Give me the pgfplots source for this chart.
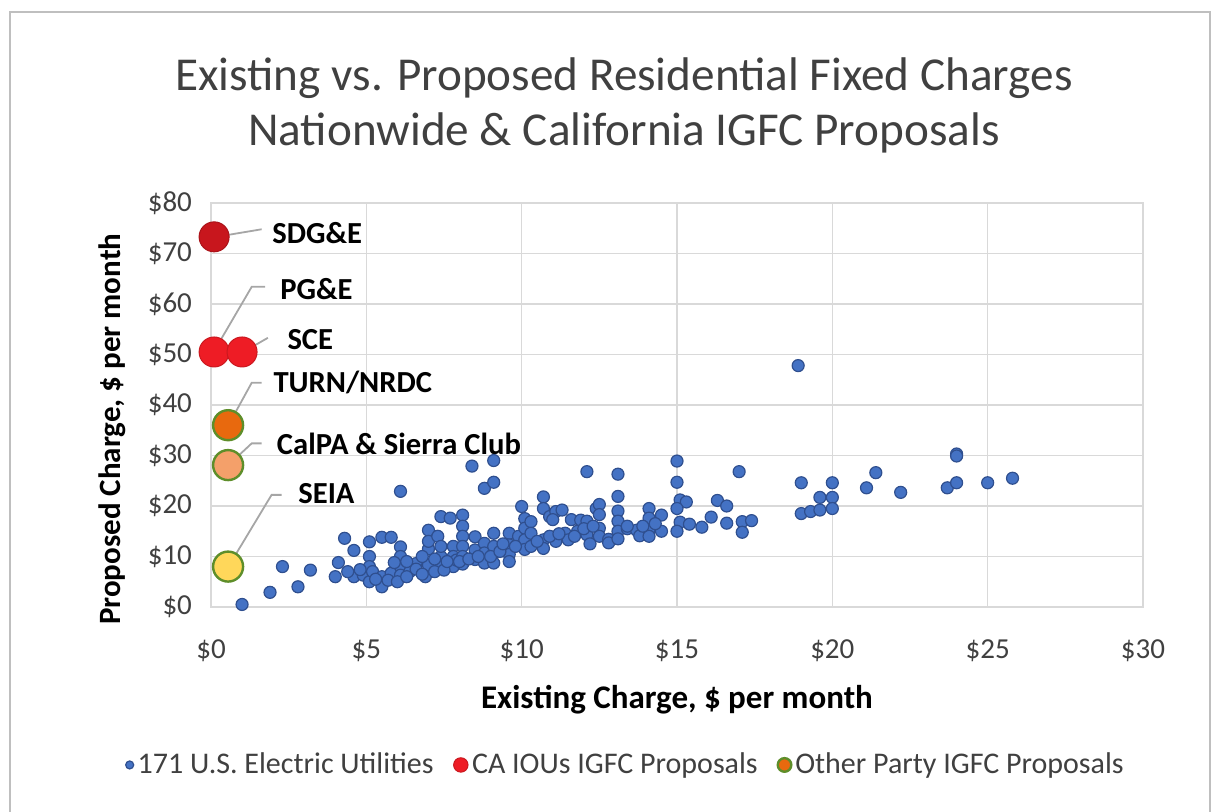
\documentclass[border=0pt]{standalone}
\usepackage{pgfplots}
\pgfplotsset{compat=1.18}
\usepackage{fontspec}
\setmainfont{Carlito}
\definecolor{dotblue}{HTML}{4472C4}
\definecolor{dotedge}{HTML}{2F4F8F}
\definecolor{iou}{HTML}{EE1C25}
\definecolor{sdge}{HTML}{C8161D}
\definecolor{turn}{HTML}{E8690E}
\definecolor{calpa}{HTML}{F4A06A}
\definecolor{seia}{HTML}{FFD75A}
\definecolor{gedge}{HTML}{5E8E2A}
\definecolor{gridc}{HTML}{D9D9D9}
\definecolor{titlec}{HTML}{404040}
\newcommand{\fs}[1]{\fontsize{#1}{#1}\selectfont}
\begin{document}
\begin{tikzpicture}
\useasboundingbox (0,0) rectangle (608.5pt,406pt);
\draw[black!25, line width=0.8pt] (5pt,-5pt) rectangle (605pt,400pt);
\node[text=titlec, align=center] at (312pt,367pt) {\fs{23.6pt}Existing vs. Proposed Residential Fixed Charges};
\node[text=titlec, align=center] at (312pt,339.5pt) {\fs{23.6pt}Nationwide \& California IGFC Proposals};
\begin{axis}[
  at={(105.5pt,102.5pt)}, anchor=origin,
  scale only axis, width=466pt, height=202pt,
  xmin=0, xmax=30, ymin=0, ymax=80,
  xtick={0,5,...,30}, ytick={0,10,...,80},
  xticklabels={\$0,\$5,\$10,\$15,\$20,\$25,\$30},
  yticklabels={\$0,\$10,\$20,\$30,\$40,\$50,\$60,\$70,\$80},
  /pgf/number format/assume math mode=true,
  tick label style={font=\fs{14.5pt}, text=titlec},
  xticklabel style={yshift=-13pt},
  yticklabel style={xshift=-6pt},
  major tick length=0pt,
  grid=major, major grid style={gridc, line width=0.8pt},
  axis line style={gridc, line width=0.8pt},
  clip=false,
  xlabel={\bfseries Existing Charge, \$ per month},
  ylabel={\bfseries Proposed Charge, \$ per month},
  xlabel style={font=\fs{16.5pt}, at={(0.5,-0.23)}, anchor=center},
  ylabel style={font=\fs{15.5pt}, at={(-0.106,0.44)}, anchor=center},
  legend style={at={(0.446,-0.391)}, anchor=center, draw=none, font=\fs{15pt}, text=titlec,
    /tikz/every even column/.append style={column sep=8pt}},
  legend columns=3,
]
\addplot[only marks, mark=*, mark size=3pt, mark options={fill=dotblue, draw=dotedge, line width=0.6pt},
  legend image post style={mark size=2pt}] table {
x y
1.0 0.5
1.9 2.9
2.3 8.0
2.8 4.0
3.2 7.3
4.0 6.0
4.1 8.8
4.3 13.6
4.6 11.2
4.6 6.0
4.9 6.3
5.1 12.9
5.1 10.0
5.1 8.0
5.1 5.0
5.2 7.0
5.5 13.8
5.5 6.0
5.5 4.0
5.8 13.8
5.8 6.7
6.1 22.9
6.1 11.9
6.1 10.0
6.1 8.0
6.1 6.3
6.4 7.0
6.6 8.6
6.6 7.5
6.9 6.0
7.0 15.2
7.0 11.5
7.0 8.3
7.0 13.0
7.3 14.0
7.4 17.9
7.4 10.0
7.4 8.3
7.4 12.0
7.7 17.6
7.8 12.0
7.8 10.0
7.8 8.0
7.9 9.3
8.1 18.2
8.1 16.0
8.1 14.0
8.1 12.0
8.1 10.0
8.1 8.5
8.4 27.9
8.5 13.9
8.5 11.3
8.5 9.4
8.8 23.5
8.8 12.6
8.8 10.7
8.8 8.7
9.1 29.0
9.1 24.7
9.1 14.6
9.1 10.7
9.1 8.7
9.1 12.0
9.6 14.6
9.6 12.3
9.6 10.4
9.6 9.0
9.9 14.0
10.0 19.9
10.1 17.5
10.1 15.6
10.1 13.3
10.1 11.4
10.3 16.9
10.3 14.6
10.3 12.0
10.7 21.8
10.7 19.5
10.7 13.3
10.7 11.6
10.9 17.9
11.1 18.9
11.0 17.3
11.1 13.0
11.3 19.2
11.4 14.6
11.5 13.3
11.6 17.3
11.8 15.0
11.9 17.2
12.1 26.8
12.1 17.0
12.1 14.3
12.2 12.5
12.4 19.5
12.5 20.3
12.5 18.3
12.5 15.6
12.5 14.0
12.8 13.4
12.8 12.7
13.1 26.3
13.1 21.9
13.1 19.0
13.1 17.0
13.1 15.0
13.1 13.5
13.4 15.5
13.7 15.2
13.8 14.1
14.1 19.5
14.1 17.6
14.1 15.3
14.1 14.0
14.5 18.2
14.5 15.0
15.0 28.9
15.0 24.7
15.1 21.2
15.3 20.8
15.0 19.5
15.1 16.8
15.0 15.0
15.4 16.4
15.8 15.8
16.1 17.8
16.3 21.1
16.6 20.0
16.6 16.6
17.0 26.8
17.1 16.9
17.4 17.1
17.1 14.8
18.9 47.8
19.0 24.6
19.0 18.5
19.3 18.9
19.6 19.2
19.6 21.7
20.0 24.6
20.0 21.7
20.0 19.5
21.1 23.6
21.4 26.6
22.2 22.7
23.7 23.6
24.0 30.3
24.0 29.9
24.0 24.6
25.0 24.6
25.8 25.5
5.3 5.5
5.7 5.3
6.0 5.0
6.3 6.0
6.8 6.5
7.2 7.0
7.5 7.3
7.6 9.0
8.0 9.0
8.3 9.5
8.6 10.0
9.0 10.0
9.3 11.0
9.4 12.5
9.8 12.0
10.5 13.0
10.9 14.0
11.2 14.5
11.7 14.0
12.0 15.5
12.3 16.0
13.4 16.0
13.9 16.0
14.3 16.5
6.3 9.0
6.8 10.0
7.2 9.5
4.4 7.0
4.8 7.4
5.9 8.8
};
\addlegendentry{171 U.S. Electric Utilities}
\addplot[only marks, mark=*, mark size=7.5pt, mark options={fill=iou, draw=iou!85!black, line width=0.5pt},
  legend image post style={mark size=3.6pt}] table {
x y
0.1 50.5
1.0 50.5
};
\addlegendentry{CA IOUs IGFC Proposals}
\addplot[only marks, mark=*, mark size=7.5pt, mark options={fill=turn, draw=gedge, line width=1.2pt},
  legend image post style={mark size=3.4pt, line width=0.8pt}] table {
x y
0.55 36.0
};
\addlegendentry{Other Party IGFC Proposals}
\addplot[only marks, forget plot, mark=*, mark size=7.5pt, mark options={fill=sdge, draw=sdge!85!black, line width=0.5pt}] table {
x y
0.1 73.3
};
\addplot[only marks, forget plot, mark=*, mark size=7.5pt, mark options={fill=calpa, draw=gedge, line width=1.2pt}] table {
x y
0.55 28.1
};
\addplot[only marks, forget plot, mark=*, mark size=7.5pt, mark options={fill=seia, draw=gedge, line width=1.2pt}] table {
x y
0.55 8.0
};
% leader lines
\draw[gray!70, line width=0.9pt] (axis cs:0.18,73.3) -- (axis cs:1.63,74.8);
\draw[gray!70, line width=0.9pt] (axis cs:0.18,51.5) -- (axis cs:1.31,63.4) -- (axis cs:1.74,63.4);
\draw[gray!70, line width=0.9pt] (axis cs:1.04,50.5) -- (axis cs:1.83,53.3);
\draw[gray!70, line width=0.9pt] (axis cs:0.56,36.0) -- (axis cs:1.31,44.4) -- (axis cs:1.63,44.4);
\draw[gray!70, line width=0.9pt] (axis cs:0.56,28.1) -- (axis cs:1.31,32.4) -- (axis cs:1.63,32.4);
\draw[gray!70, line width=0.9pt] (axis cs:0.56,8.0) -- (axis cs:1.95,22.2) -- (axis cs:2.27,22.2);
\node[anchor=west, inner sep=0pt, font=\fs{15.3pt}\bfseries] at (axis cs:1.96,74.0) {SDG\&E};
\node[anchor=west, inner sep=0pt, font=\fs{15.3pt}\bfseries] at (axis cs:2.22,63.0) {PG\&E};
\node[anchor=west, inner sep=0pt, font=\fs{15.3pt}\bfseries] at (axis cs:2.45,52.9) {SCE};
\node[anchor=west, inner sep=0pt, font=\fs{15.3pt}\bfseries] at (axis cs:2.0,44.4) {TURN/NRDC};
\node[anchor=west, inner sep=0pt, font=\fs{15.3pt}\bfseries] at (axis cs:2.11,32.4) {CalPA \& Sierra Club};
\node[anchor=west, inner sep=0pt, font=\fs{15.3pt}\bfseries] at (axis cs:2.8,22.4) {SEIA};
\end{axis}
\end{tikzpicture}
\end{document}
